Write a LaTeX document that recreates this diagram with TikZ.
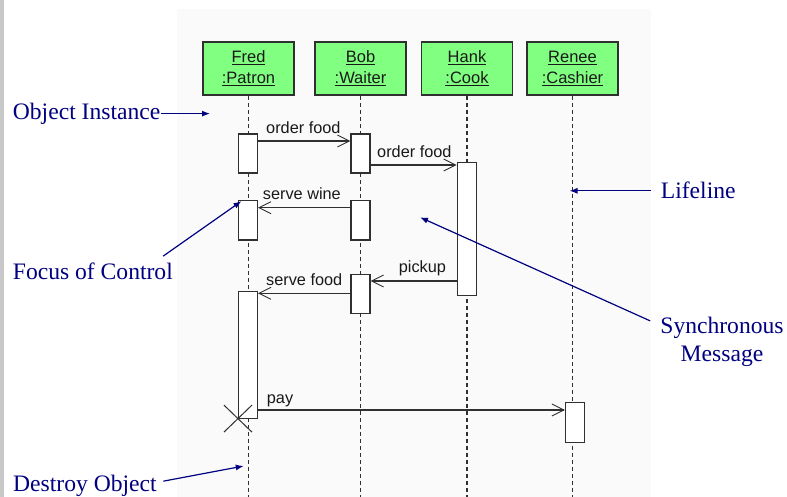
\documentclass[tikz,border=0pt]{standalone}
\usepackage{fontspec}
\setmainfont{Liberation Serif}
\newfontfamily\umlfont{Liberation Sans}
\usetikzlibrary{arrows.meta}
\definecolor{hdrgreen}{HTML}{80FF80}
\definecolor{annot}{HTML}{000080}
\definecolor{ink}{HTML}{303030}
\definecolor{bgpanel}{HTML}{FAFAFA}
\definecolor{edgegray}{HTML}{C8C8C8}
\begin{document}
\begin{tikzpicture}[x=1pt,y=-1pt,
  objbox/.style={draw=ink, line width=1.3pt, fill=hdrgreen, minimum width=91pt, minimum height=53pt, inner sep=0pt, align=center, font=\umlfont\fontsize{16.5}{21}\selectfont, text=black!90},
  actbox/.style={draw=ink, line width=1.1pt, fill=white, minimum width=19pt, inner sep=0pt},
  lifeline/.style={draw=ink, line width=1.2pt, dash pattern=on 4pt off 3pt},
  msg/.style={draw=ink, line width=1.1pt, -{Straight Barb[length=12pt,width=12pt,line width=0.9pt]}},
  msglbl/.style={font=\umlfont\fontsize{16.3}{19}\selectfont, text=black!90, anchor=base west, inner sep=0pt},
  note/.style={font=\fontsize{23.6}{28.4}\selectfont, text=annot, inner sep=0pt},
  pointer/.style={draw=annot, line width=1.2pt, -{Latex[length=8pt,width=6pt]}},
]
\useasboundingbox (0,0) rectangle (787,497);
\fill[bgpanel] (177,9) rectangle (651,497);
\fill[edgegray] (0,0) rectangle (4,497);
\coordinate (bottom) at (0,497);

% object instances
\node[objbox] (fred)  at (248.5,68.5) {\underline{Fred}\\\underline{:Patron}};
\node[objbox] (bob)   at (360.5,68.5) {\underline{Bob}\\\underline{:Waiter}};
\node[objbox] (hank)  at (467,68.5)   {\underline{Hank}\\\underline{:Cook}};
\node[objbox] (renee) at (572.5,68.5) {\underline{Renee}\\\underline{:Cashier}};

% lifelines
\foreach \o in {fred,bob,hank,renee}
  \draw[lifeline] (\o.south) -- (\o.south |- bottom);

% activations
\node[actbox, minimum height=39pt]    (fred1)  at (248,153.5)  {};
\node[actbox, minimum height=39pt]    (bob1)   at (360.5,153.5) {};
\node[actbox, minimum height=132.3pt] (hank1)  at (466.7,228.9) {};
\node[actbox, minimum height=39.3pt]  (fred2)  at (248,220.35) {};
\node[actbox, minimum height=39.3pt]  (bob2)   at (360.5,220.35) {};
\node[actbox, minimum height=39.3pt]  (bob3)   at (360.5,293.7) {};
\node[actbox, minimum height=126.3pt] (fred3)  at (248,354.9)  {};
\node[actbox, minimum height=40pt]    (renee1) at (575,422.7)  {};

% messages
\draw[msg] (fred1.east |- 0,141) -- (bob1.west |- 0,141);
\draw[msg] (bob1.east |- 0,165) -- (hank1.west |- 0,165);
\draw[msg] (bob2.west |- 0,207.7) -- (fred2.east |- 0,207.7);
\draw[msg] (hank1.west |- 0,281) -- (bob3.east |- 0,281);
\draw[msg] (bob3.west |- 0,293.3) -- (fred3.east |- 0,293.3);
\draw[msg] (fred3.east |- 0,410) -- (renee1.west |- 0,410);

\node[msglbl] (m1) at (266,133.3) {order food};
\node[msglbl] (m2) at (377,157.7) {order food};
\node[msglbl] (m3) at (262.7,200) {serve wine};
\node[msglbl] (m4) at (398.7,272.7) {pickup};
\node[msglbl] (m5) at (266,285.7) {serve food};
\node[msglbl] (m6) at (266.7,403.3) {pay};

% destroy mark
\draw[ink, line width=1pt] ([shift={(-14,-13.5)}]fred3.south west) -- ([shift={(14,13.5)}]fred3.south west);
\draw[ink, line width=1pt] ([shift={(-14,13.5)}]fred3.south west) -- ([shift={(14,-13.5)}]fred3.south west);

% annotations
\node[note, anchor=base west] (noteobj) at (12.7,119.3) {Object Instance};
\coordinate (objtip) at (210,0);
\draw[pointer] (noteobj.east) -- (noteobj.east -| objtip);

\node[note, anchor=base west] (notefoc) at (12.7,279) {Focus of Control};
\draw[pointer] ([shift={(-10,-6)}]notefoc.north east) -- ([shift={(3.5,1)}]fred2.north west);

\node[note, anchor=base west] (notelife) at (660.7,199) {Lifeline};
\coordinate (lifetip) at (579.5,0);
\draw[pointer] ([xshift=-10pt]notelife.west) -- ([xshift=-10pt]notelife.west -| lifetip);

\node[note, align=center] (notesync) at (722,342) {Synchronous\\Message};
\coordinate (synctip) at (420,217.3);
\draw[pointer] ([shift={(-10,4)}]notesync.north west) -- (synctip);

\node[note, anchor=base west] (notedes) at (13,491.5) {Destroy Object};
\coordinate (destip) at (243.75,466);
\draw[pointer] ([shift={(6.5,-4.7)}]notedes.east) -- (destip);
\end{tikzpicture}
\end{document}
